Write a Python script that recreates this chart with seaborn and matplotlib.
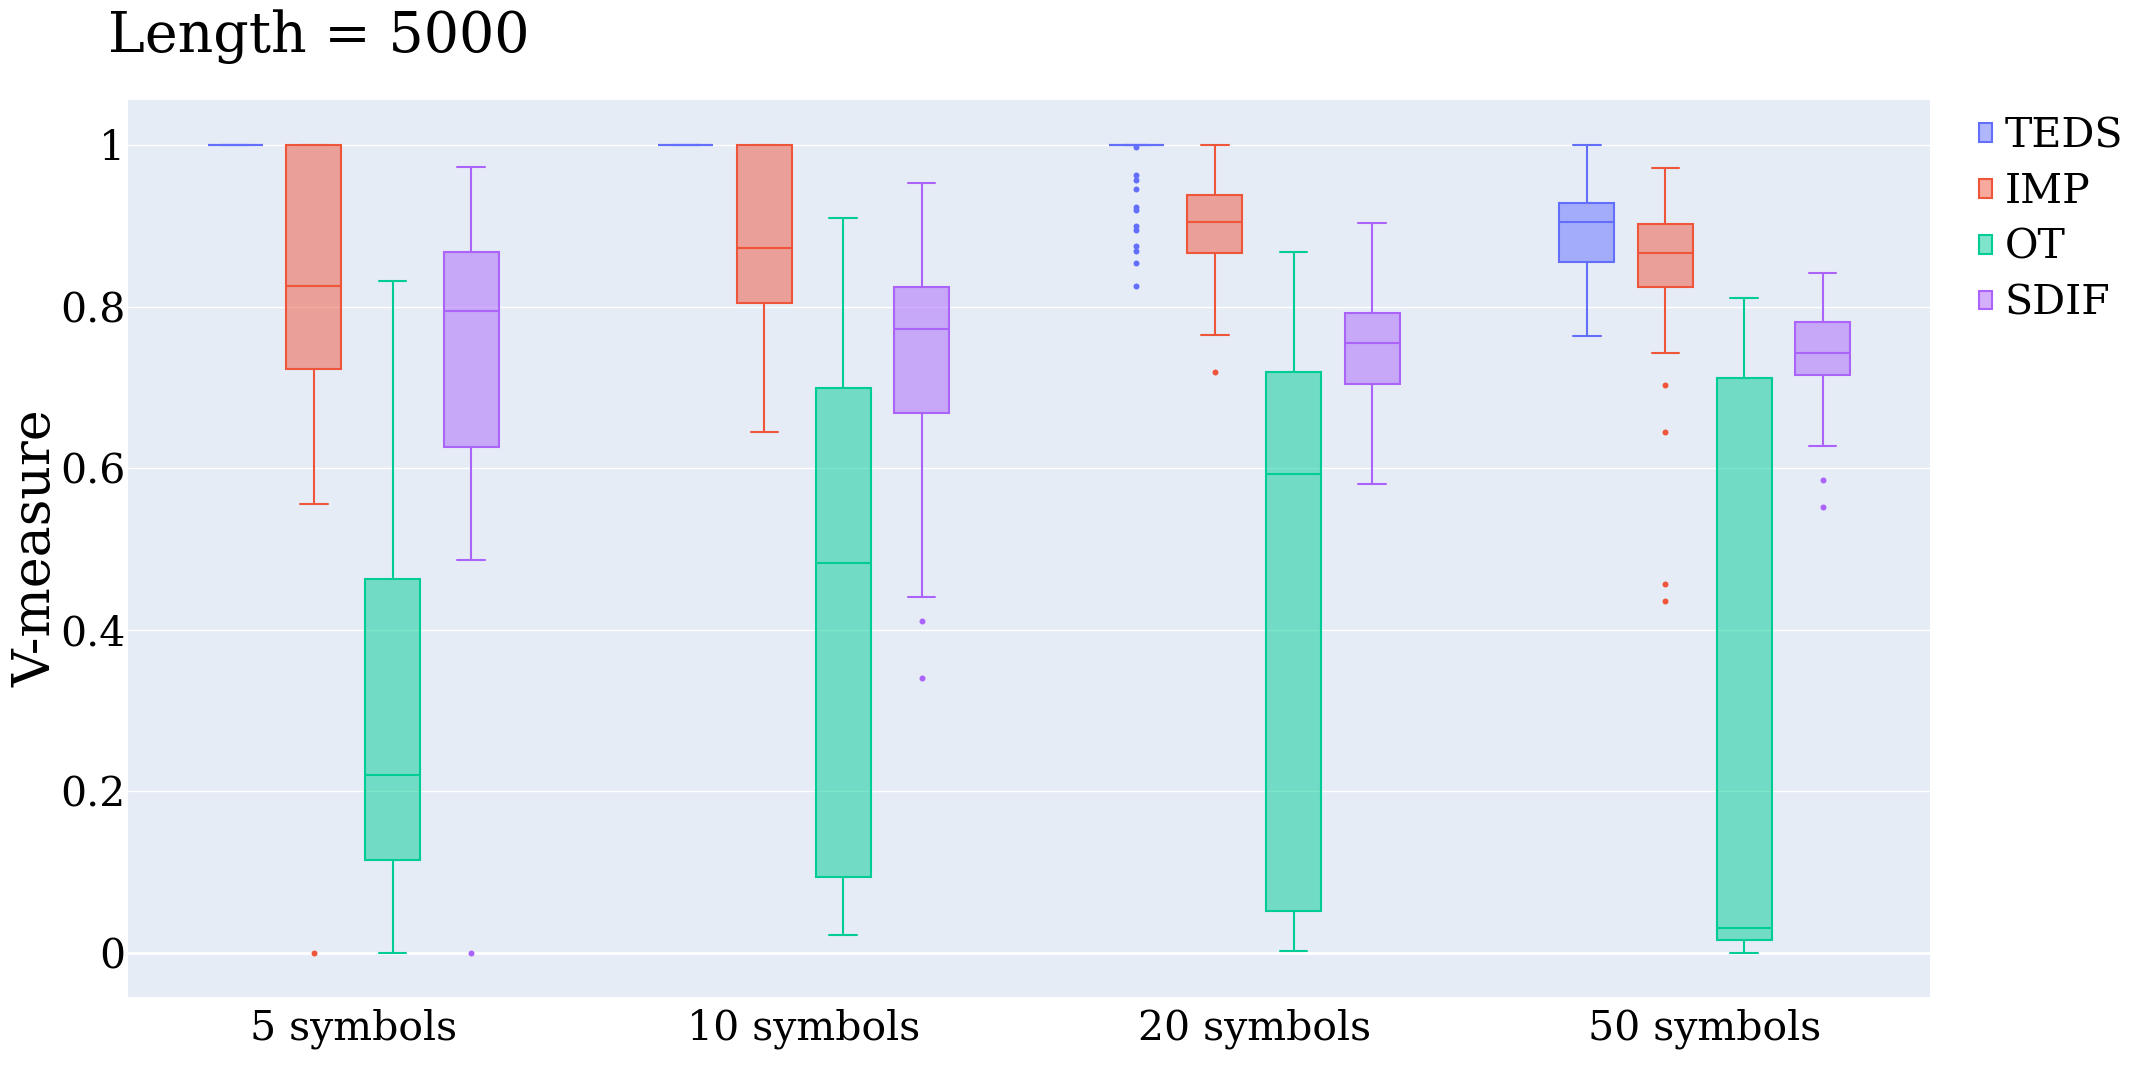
import numpy as np
import pandas as pd
import seaborn as sns
import matplotlib.pyplot as plt
from matplotlib.colors import to_rgba
from matplotlib.patches import Patch

# categories and series
groups = ["5 symbols", "10 symbols", "20 symbols", "50 symbols"]
methods = ["TEDS", "IMP", "OT", "SDIF"]
colors = ["#636EFA", "#EF553B", "#00CC96", "#AB63FA"]

# V-measure samples (whisker ends, quartiles, outliers)
teds_values = [
    [1.0] * 9,
    [1.0] * 9,
    [0.826, 0.854, 0.869, 0.875, 0.895, 0.900, 0.919, 0.923, 0.945, 0.957, 0.963, 0.998] + [1.0] * 38,
    [0.764, 0.82, 0.855, 0.88, 0.905, 0.915, 0.928, 0.96, 1.0],
]
imp_values = [
    [0.0, 0.555, 0.722, 0.78, 0.825, 0.93, 1.0, 1.0, 1.0],
    [0.645, 0.72, 0.804, 0.84, 0.873, 0.95, 1.0, 1.0, 1.0],
    [0.719, 0.765, 0.866, 0.88, 0.905, 0.92, 0.938, 0.97, 1.0],
    [0.435, 0.457, 0.644, 0.703, 0.742, 0.824, 0.83, 0.84, 0.85, 0.86, 0.866,
     0.87, 0.88, 0.89, 0.895, 0.902, 0.91, 0.92, 0.94, 0.96, 0.972],
]
ot_values = [
    [0.0, 0.06, 0.115, 0.17, 0.22, 0.35, 0.462, 0.65, 0.832],
    [0.022, 0.05, 0.093, 0.3, 0.482, 0.6, 0.699, 0.8, 0.909],
    [0.002, 0.02, 0.051, 0.35, 0.592, 0.66, 0.719, 0.8, 0.868],
    [0.0, 0.008, 0.015, 0.022, 0.031, 0.3, 0.712, 0.76, 0.811],
]
sdif_values = [
    [0.0, 0.486, 0.626, 0.72, 0.794, 0.83, 0.868, 0.92, 0.973],
    [0.340, 0.411, 0.440, 0.668, 0.70, 0.74, 0.772, 0.79, 0.81, 0.824, 0.87, 0.91, 0.953],
    [0.580, 0.65, 0.704, 0.73, 0.755, 0.77, 0.792, 0.85, 0.903],
    [0.552, 0.585, 0.627, 0.715, 0.725, 0.735, 0.743, 0.755, 0.77, 0.781, 0.80, 0.82, 0.842],
]
y_ticks = [0, 0.2, 0.4, 0.6, 0.8, 1]
y_tick_labels = ["0", "0.2", "0.4", "0.6", "0.8", "1"]


def main():
    rows = []
    for method, series in zip(methods, [teds_values, imp_values, ot_values, sdif_values]):
        for group, vals in zip(groups, series):
            for v in vals:
                rows.append({"group": group, "method": method, "value": v})
    df = pd.DataFrame(rows)

    sns.set_style("darkgrid", {"axes.facecolor": "#E5ECF6", "grid.color": "white",
                               "text.color": "black", "axes.labelcolor": "black",
                               "xtick.color": "black", "ytick.color": "black"})
    plt.rcParams["font.family"] = ["DejaVu Serif"]

    W, H = 2144, 1077
    fig = plt.figure(figsize=(W / 100, H / 100), dpi=100)
    ax = fig.add_axes([128 / W, 1 - 997 / H, (1930 - 128) / W, (997 - 100) / H])

    sns.boxplot(data=df, x="group", y="value", hue="method", order=groups,
                hue_order=methods, palette=colors, saturation=1, width=0.698, gap=0.30,
                linewidth=1.5, fliersize=4.3, whis=1.5,
                flierprops={"marker": "o", "markeredgewidth": 0},
                legend=False, ax=ax)

    # plotly-like colouring: translucent fill, solid outline in the same hue
    boxes = []
    for p in ax.patches:
        verts = p.get_path().vertices
        xc = (verts[:, 0].min() + verts[:, 0].max()) / 2
        c = p.get_facecolor()
        boxes.append((xc, c))
        p.set_facecolor(to_rgba(c, 0.5))
        p.set_edgecolor(to_rgba(c, 1.0))
    centers = np.array([b[0] for b in boxes])
    for line in ax.lines:
        xd = np.asarray(line.get_xdata(), dtype=float)
        if len(xd) == 0:
            continue
        i = np.argmin(np.abs(centers - xd.mean()))
        c = to_rgba(boxes[i][1], 1.0)
        line.set_color(c)
        line.set_markerfacecolor(c)
        line.set_markeredgecolor(c)

    ax.axhline(0, color="white", lw=2, zorder=0.5)
    ax.set_ylim(-0.055, 1.0557)
    ax.set_xlim(-0.5, 3.5)
    ax.set_yticks(y_ticks)
    ax.set_yticklabels(y_tick_labels)
    ax.grid(axis="y", color="white", lw=1)
    ax.grid(axis="x", visible=False)
    ax.set_axisbelow(True)
    for s in ax.spines.values():
        s.set_visible(False)
    ax.tick_params(axis="both", length=0, labelsize=29.5, labelcolor="black")
    ax.tick_params(axis="y", pad=2)
    ax.tick_params(axis="x", pad=8)
    ax.set_xlabel("")
    ax.set_ylabel("V-measure", fontsize=37.5, color="black")
    ax.yaxis.set_label_coords(-0.037, 0.5)

    fig.text(108 / W, 1 - 52 / H, "Length = 5000", fontsize=40, ha="left",
             va="baseline", color="black")

    handles = [Patch(facecolor=to_rgba(c, 0.5), edgecolor=c, linewidth=1.5) for c in colors]
    leg = ax.legend(handles, methods, loc="upper left", bbox_to_anchor=(1979 / W, 1 - 116 / H),
                    bbox_transform=fig.transFigure, frameon=False, fontsize=29.5,
                    handlelength=0.32, handleheight=0.32, handletextpad=0.3,
                    labelspacing=0.39, borderpad=0, borderaxespad=0)
    for t in leg.get_texts():
        t.set_color("black")

    fig.savefig("out.png", dpi=100)


if __name__ == "__main__":
    main()
